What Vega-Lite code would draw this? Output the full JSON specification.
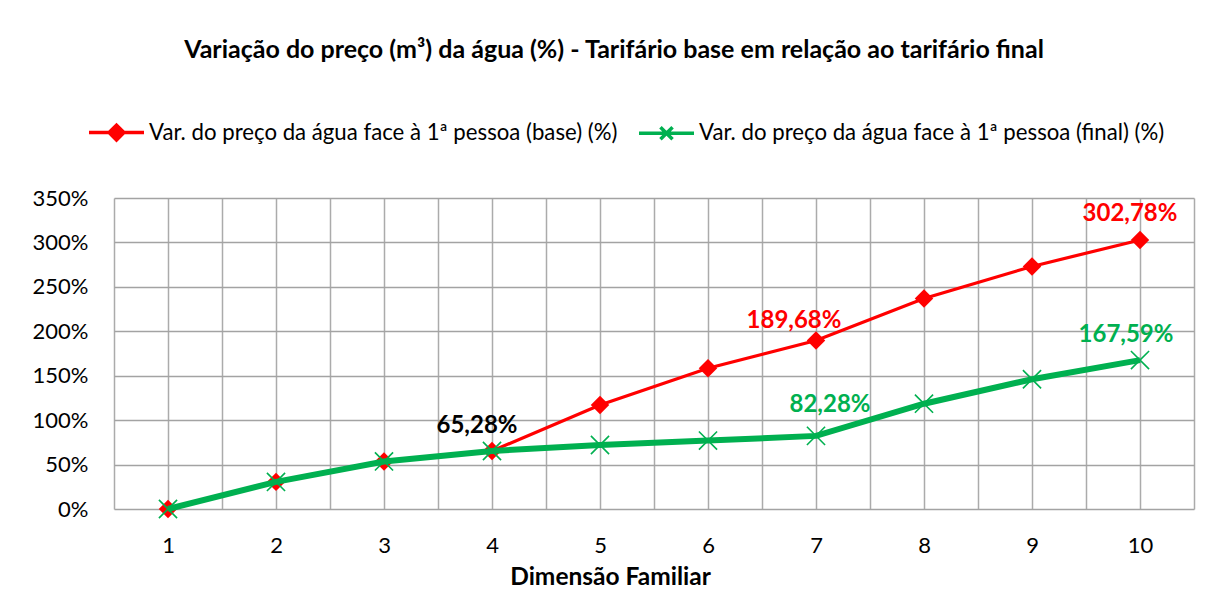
{
  "$schema": "https://vega.github.io/schema/vega-lite/v6.json",
  "width": 1080,
  "height": 311,
  "autosize": {"type": "none"},
  "padding": {"left": 114, "top": 198, "right": 19, "bottom": 99},
  "background": "white",
  "config": {
    "font": "Lato",
    "view": {"stroke": null},
    "legend": {
      "labelFont": "Lato",
      "labelFontSize": 22.2,
      "labelColor": "black",
      "symbolSize": 3025,
      "symbolStrokeWidth": 3.5,
      "labelOffset": 3,
      "columnPadding": 14,
      "padding": 0,
      "labelLimit": 1000
    }
  },
  "title": {
    "text": "Variação do preço (m³) da água (%) - Tarifário base em relação ao tarifário final",
    "fontSize": 25,
    "fontWeight": "bold",
    "color": "black",
    "anchor": "middle",
    "dx": -40,
    "offset": 40
  },
  "data": {
    "values": [
      {"dim": 1, "series": "Var. do preço da água face à 1ª pessoa (base) (%)", "pct": 0},
      {"dim": 2, "series": "Var. do preço da água face à 1ª pessoa (base) (%)", "pct": 30.5},
      {"dim": 3, "series": "Var. do preço da água face à 1ª pessoa (base) (%)", "pct": 53.5},
      {"dim": 4, "series": "Var. do preço da água face à 1ª pessoa (base) (%)", "pct": 65.28, "label": "65,28%"},
      {"dim": 5, "series": "Var. do preço da água face à 1ª pessoa (base) (%)", "pct": 117},
      {"dim": 6, "series": "Var. do preço da água face à 1ª pessoa (base) (%)", "pct": 158.5},
      {"dim": 7, "series": "Var. do preço da água face à 1ª pessoa (base) (%)", "pct": 189.68, "label": "189,68%"},
      {"dim": 8, "series": "Var. do preço da água face à 1ª pessoa (base) (%)", "pct": 237},
      {"dim": 9, "series": "Var. do preço da água face à 1ª pessoa (base) (%)", "pct": 273},
      {"dim": 10, "series": "Var. do preço da água face à 1ª pessoa (base) (%)", "pct": 302.78, "label": "302,78%"},
      {"dim": 1, "series": "Var. do preço da água face à 1ª pessoa (final) (%)", "pct": 0},
      {"dim": 2, "series": "Var. do preço da água face à 1ª pessoa (final) (%)", "pct": 30.5},
      {"dim": 3, "series": "Var. do preço da água face à 1ª pessoa (final) (%)", "pct": 53.5},
      {"dim": 4, "series": "Var. do preço da água face à 1ª pessoa (final) (%)", "pct": 65.28},
      {"dim": 5, "series": "Var. do preço da água face à 1ª pessoa (final) (%)", "pct": 72},
      {"dim": 6, "series": "Var. do preço da água face à 1ª pessoa (final) (%)", "pct": 77},
      {"dim": 7, "series": "Var. do preço da água face à 1ª pessoa (final) (%)", "pct": 82.28, "label": "82,28%"},
      {"dim": 8, "series": "Var. do preço da água face à 1ª pessoa (final) (%)", "pct": 118.5},
      {"dim": 9, "series": "Var. do preço da água face à 1ª pessoa (final) (%)", "pct": 146},
      {"dim": 10, "series": "Var. do preço da água face à 1ª pessoa (final) (%)", "pct": 167.59, "label": "167,59%"}
    ]
  },
  "encoding": {
    "x": {
      "field": "dim",
      "type": "quantitative",
      "title": "Dimensão Familiar",
      "scale": {"domain": [0.5, 10.5], "nice": false, "zero": false},
      "axis": {
        "values": [0.5, 1, 1.5, 2, 2.5, 3, 3.5, 4, 4.5, 5, 5.5, 6, 6.5, 7, 7.5, 8, 8.5, 9, 9.5, 10, 10.5],
        "labelExpr": "datum.value % 1 === 0 ? format(datum.value, 'd') : ''",
        "grid": true,
        "gridColor": "#ababab",
        "gridWidth": 1.5,
        "gridOpacity": 1,
        "ticks": false,
        "domain": false,
        "labelFontSize": 22,
        "labelColor": "black",
        "labelPadding": 26,
        "labelOverlap": false,
        "labelFlush": false,
        "labelBound": false,
        "titleFontSize": 24.5,
        "titleFontWeight": "bold",
        "titleColor": "black",
        "titlePadding": 9,
        "titleX": 496
      }
    },
    "y": {
      "field": "pct",
      "type": "quantitative",
      "title": null,
      "scale": {"domain": [0, 350], "nice": false},
      "axis": {
        "values": [0, 50, 100, 150, 200, 250, 300, 350],
        "labelExpr": "datum.value + '%'",
        "grid": true,
        "gridColor": "#a3a3a3",
        "gridWidth": 1.5,
        "gridOpacity": 1,
        "ticks": false,
        "domain": false,
        "labelFontSize": 22,
        "labelColor": "black",
        "labelPadding": 26
      }
    }
  },
  "layer": [
    {
      "transform": [{"filter": "datum.series == 'Var. do preço da água face à 1ª pessoa (base) (%)'"}],
      "mark": {"type": "line", "color": "#ff0000", "strokeWidth": 3.2}
    },
    {
      "transform": [{"filter": "datum.series == 'Var. do preço da água face à 1ª pessoa (base) (%)'"}],
      "mark": {"type": "point", "shape": "diamond", "filled": true, "color": "#ff0000", "size": 340, "opacity": 1}
    },
    {
      "transform": [{"filter": "datum.series == 'Var. do preço da água face à 1ª pessoa (final) (%)'"}],
      "mark": {"type": "line", "color": "#00b050", "strokeWidth": 6}
    },
    {
      "transform": [{"filter": "datum.series == 'Var. do preço da água face à 1ª pessoa (final) (%)'"}],
      "mark": {"type": "point", "shape": "M-1,-1L1,1M-1,1L1,-1", "filled": false, "color": "#00b050", "size": 330, "strokeWidth": 1.6, "opacity": 1}
    },
    {
      "transform": [{"filter": "datum.dim < 0"}],
      "mark": {"type": "point", "filled": false, "opacity": 1},
      "encoding": {
        "shape": {
          "field": "series", "type": "nominal", "title": null,
          "scale": {
            "domain": ["Var. do preço da água face à 1ª pessoa (base) (%)", "Var. do preço da água face à 1ª pessoa (final) (%)"],
            "range": ["M-1,0H1M-0.27,0L0,-0.27L0.27,0L0,0.27Z", "M-1,0H1M-0.22,-0.22L0.22,0.22M-0.22,0.22L0.22,-0.22"]
          },
          "legend": {"orient": "none", "legendX": -27, "legendY": -95, "direction": "horizontal"}
        },
        "stroke": {
          "field": "series", "type": "nominal", "title": null,
          "scale": {
            "domain": ["Var. do preço da água face à 1ª pessoa (base) (%)", "Var. do preço da água face à 1ª pessoa (final) (%)"],
            "range": ["#ff0000", "#00b050"]
          },
          "legend": {"orient": "none", "legendX": -27, "legendY": -95, "direction": "horizontal"}
        },
        "fill": {
          "field": "series", "type": "nominal", "title": null,
          "scale": {
            "domain": ["Var. do preço da água face à 1ª pessoa (base) (%)", "Var. do preço da água face à 1ª pessoa (final) (%)"],
            "range": ["#ff0000", "transparent"]
          },
          "legend": {"orient": "none", "legendX": -27, "legendY": -95, "direction": "horizontal"}
        }
      }
    },
    {
      "transform": [{"filter": "datum.dim == 4 && datum.label != null"}],
      "mark": {"type": "text", "color": "black", "fontSize": 24, "fontWeight": "bold", "dx": -15, "dy": -25},
      "encoding": {"text": {"field": "label"}}
    },
    {
      "transform": [{"filter": "datum.dim == 7 && datum.series == 'Var. do preço da água face à 1ª pessoa (base) (%)'"}],
      "mark": {"type": "text", "color": "#ff0000", "fontSize": 24, "fontWeight": "bold", "dx": -22, "dy": -19},
      "encoding": {"text": {"field": "label"}}
    },
    {
      "transform": [{"filter": "datum.dim == 10 && datum.series == 'Var. do preço da água face à 1ª pessoa (base) (%)'"}],
      "mark": {"type": "text", "color": "#ff0000", "fontSize": 24, "fontWeight": "bold", "dx": -10, "dy": -26},
      "encoding": {"text": {"field": "label"}}
    },
    {
      "transform": [{"filter": "datum.dim == 7 && datum.series == 'Var. do preço da água face à 1ª pessoa (final) (%)'"}],
      "mark": {"type": "text", "color": "#00b050", "fontSize": 24, "fontWeight": "bold", "dx": 14, "dy": -31},
      "encoding": {"text": {"field": "label"}}
    },
    {
      "transform": [{"filter": "datum.dim == 10 && datum.series == 'Var. do preço da água face à 1ª pessoa (final) (%)'"}],
      "mark": {"type": "text", "color": "#00b050", "fontSize": 24, "fontWeight": "bold", "dx": -14, "dy": -25},
      "encoding": {"text": {"field": "label"}}
    }
  ]
}
